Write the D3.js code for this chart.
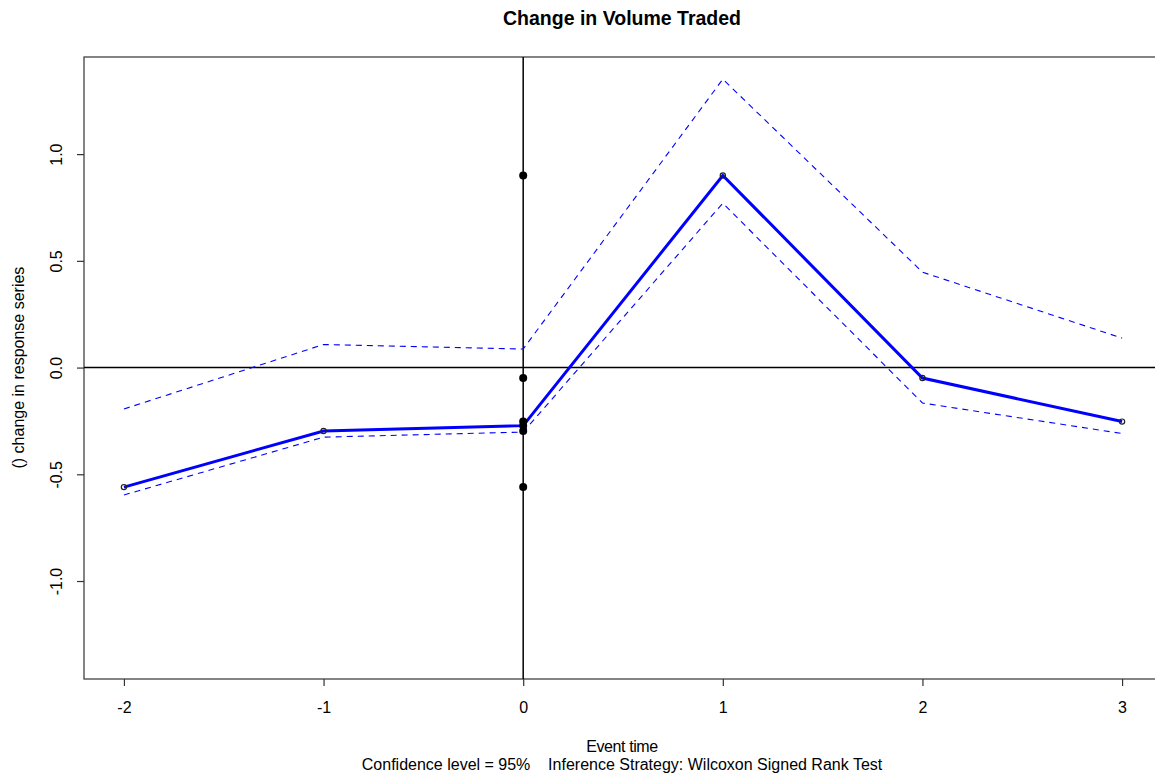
<!DOCTYPE html>
<html>
<head>
<meta charset="utf-8">
<script src="https://cdn.jsdelivr.net/npm/d3@7"></script>
<style>
  body { margin: 0; background: #fff; }
  svg { display: block; font-family: "Liberation Sans", Arial, sans-serif; }
</style>
</head>
<body>
<div id="chart"></div>
<script>
// Event study: change in volume traded around event time 0

// Data
const eventTime = [-2, -1, 0, 1, 2, 3];
const response = [-0.560, -0.297, -0.272, 0.900, -0.049, -0.253];
const upperCI = [-0.194, 0.108, 0.087, 1.351, 0.447, 0.138];
const lowerCI = [-0.597, -0.326, -0.302, 0.770, -0.166, -0.309];
const yTicks = [-1.0, -0.5, 0.0, 0.5, 1.0];
const xTicks = [-2, -1, 0, 1, 2, 3];

const width = 1155, height = 778;
const margin = { top: 57, left: 84, bottom: 99 };

const svg = d3.select("#chart").append("svg")
    .attr("width", width)
    .attr("height", height);

// Scales (right edge of the plot box falls outside the window)
const x = d3.scaleLinear().domain([-2.2, 3.2]).range([margin.left, 1162]);
const y = d3.scaleLinear().domain([-1.459, 1.455]).range([height - margin.bottom, margin.top]);

// Title
svg.append("text")
    .attr("x", 622).attr("y", 25)
    .attr("text-anchor", "middle")
    .style("font-size", "19.5px").style("font-weight", "bold")
    .text("Change in Volume Traded");

// Plot box
svg.append("rect")
    .attr("x", x.range()[0]).attr("y", y.range()[1])
    .attr("width", x.range()[1] - x.range()[0])
    .attr("height", y.range()[0] - y.range()[1])
    .attr("fill", "none").attr("stroke", "#333").attr("stroke-width", 1.2);

// X axis
const xAxis = svg.append("g")
    .attr("transform", `translate(0,${y.range()[0]})`)
    .call(d3.axisBottom(x).tickValues(xTicks).tickSize(7).tickFormat(d => String(d)));
xAxis.select(".domain").remove();
xAxis.selectAll("line").attr("stroke", "#333").attr("stroke-width", 1.2);
xAxis.selectAll("text")
    .attr("y", 34).attr("dy", null)
    .attr("font-family", null)
    .style("font-size", "16px").attr("fill", "#000");

// Y axis, labels rotated like base R
const yAxis = svg.append("g")
    .attr("transform", `translate(${x.range()[0]},0)`)
    .call(d3.axisLeft(y).tickValues(yTicks).tickSize(7).tickFormat(d => d.toFixed(1)));
yAxis.select(".domain").remove();
yAxis.selectAll("line").attr("stroke", "#333").attr("stroke-width", 1.2);
yAxis.selectAll("text")
    .attr("x", null).attr("dy", null)
    .attr("text-anchor", "middle")
    .attr("transform", "translate(-22,0) rotate(-90)")
    .attr("y", 0)
    .attr("font-family", null)
    .style("font-size", "16px").attr("fill", "#000");

// Axis titles
svg.append("text")
    .attr("transform", `translate(24,${y(0)}) rotate(-90)`)
    .attr("text-anchor", "middle")
    .style("font-size", "16px")
    .text("() change in response series");

svg.append("text")
    .attr("x", 622).attr("y", 752)
    .attr("text-anchor", "middle")
    .style("font-size", "16px")
    .style("letter-spacing", "-0.4px")
    .text("Event time");

svg.append("text")
    .attr("x", 622).attr("y", 770)
    .attr("text-anchor", "middle")
    .style("font-size", "16px")
    .attr("xml:space", "preserve")
    .text("Confidence level = 95%    Inference Strategy: Wilcoxon Signed Rank Test");

// Clip to plot region
svg.append("clipPath").attr("id", "plot-clip")
    .append("rect")
    .attr("x", x.range()[0]).attr("y", y.range()[1])
    .attr("width", x.range()[1] - x.range()[0])
    .attr("height", y.range()[0] - y.range()[1]);

const plot = svg.append("g").attr("clip-path", "url(#plot-clip)");

// Reference lines at zero
plot.append("line")
    .attr("x1", x.range()[0]).attr("x2", x.range()[1])
    .attr("y1", y(0)).attr("y2", y(0))
    .attr("stroke", "#000").attr("stroke-width", 1.5);
plot.append("line")
    .attr("x1", x(0)).attr("x2", x(0))
    .attr("y1", y.range()[1]).attr("y2", y.range()[0])
    .attr("stroke", "#000").attr("stroke-width", 1.5);

const line = d3.line().x((d, i) => x(eventTime[i])).y(d => y(d));

// Confidence bands (dashed)
[upperCI, lowerCI].forEach(series => {
    plot.append("path")
        .datum(series)
        .attr("d", line)
        .attr("fill", "none")
        .attr("stroke", "#0000ff")
        .attr("stroke-width", 1.1)
        .attr("stroke-dasharray", "6,5");
});

// Main response line
plot.append("path")
    .datum(response)
    .attr("d", line)
    .attr("fill", "none")
    .attr("stroke", "#0000ff")
    .attr("stroke-width", 3);

// Open circles at each observation
plot.selectAll(".obs")
    .data(response)
    .enter().append("circle")
    .attr("class", "obs")
    .attr("cx", (d, i) => x(eventTime[i]))
    .attr("cy", d => y(d))
    .attr("r", 2.6)
    .attr("fill", "none")
    .attr("stroke", "#222")
    .attr("stroke-width", 1.2);

// Responses stacked on the event line
plot.selectAll(".stack")
    .data(response)
    .enter().append("circle")
    .attr("class", "stack")
    .attr("cx", x(0))
    .attr("cy", d => y(d))
    .attr("r", 4)
    .attr("fill", "#000");
</script>
</body>
</html>
